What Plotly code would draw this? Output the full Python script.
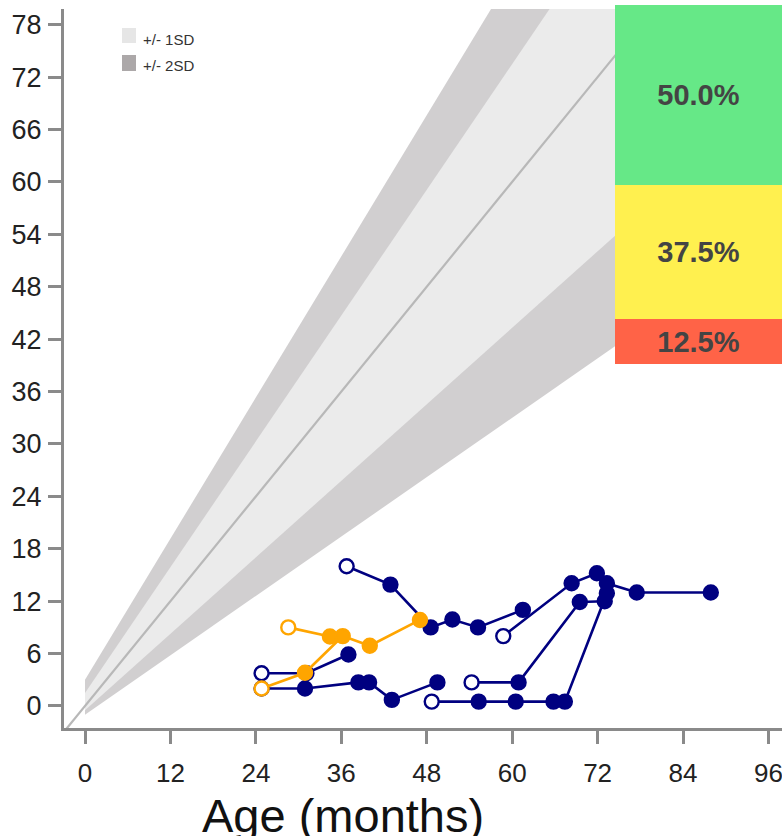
import plotly.graph_objects as go

# ---------------- data ----------------
band_age = [0, 75]
upper_2sd = [3.0, 104.0]
upper_1sd = [1.5, 91.5]
lower_1sd = [-0.5, 54.25]
lower_2sd = [-1.0, 41.5]
mean_age = [-3, 75]
mean_val = [-3, 75]

A_age = [36.75, 42.9, 48.55, 51.6, 55.2, 61.5]
A_val = [16.0, 13.9, 9.0, 9.9, 9.0, 11.0]
B_age = [58.75, 68.35, 71.9, 73.3, 77.5, 87.9]
B_val = [8.0, 14.05, 15.2, 14.05, 13.0, 13.0]
C_age = [54.3, 60.9, 69.5, 73.0]
C_val = [2.7, 2.7, 11.9, 12.0]
D_age = [48.7, 55.3, 60.5, 65.8, 67.4, 73.3]
D_val = [0.5, 0.5, 0.5, 0.5, 0.5, 12.9]
E_age = [24.8, 31.1, 37.0]
E_val = [3.75, 3.75, 5.9]
F_age = [24.8, 30.9, 38.4, 39.9, 43.1, 49.5]
F_val = [2.0, 2.0, 2.7, 2.7, 0.7, 2.7]
G_age = [28.55, 34.4]
G_val = [9.0, 7.95]
H_age = [24.8, 30.9, 36.2, 40.0, 47.05]
H_val = [2.0, 3.8, 8.0, 6.9, 9.85]

pct_labels = ["red", "yellow", "green"]
pct_values = [12.5, 37.5, 50.0]

x_ticks = [0, 12, 24, 36, 48, 60, 72, 84, 96]
y_ticks = [0, 6, 12, 18, 24, 30, 36, 42, 48, 54, 60, 66, 72, 78]

# ---------------- style ----------------
W, H = 782, 836
ML, MR, MT, MB = 64, 0, 5, 108
PW, PH = W - ML - MR, H - MT - MB
FONT = "Arial, Liberation Sans, sans-serif"
NAVY = "#000080"
ORANGE = "#FFA500"
AXC = "#8a8a8a"
pct_colors = ["#FF6347", "#FFF04F", "#66E887"]


def px_x(px):
    return (px - ML) / PW


def px_y(py):
    return (H - MB - py) / PH


fig = go.Figure()

# bands
fig.add_trace(go.Scatter(x=band_age, y=lower_2sd, mode="lines", line=dict(width=0),
                         hoverinfo="skip", showlegend=False))
fig.add_trace(go.Scatter(x=band_age, y=upper_2sd, mode="lines", line=dict(width=0),
                         fill="tonexty", fillcolor="#d1cfd0", hoverinfo="skip", showlegend=False))
fig.add_trace(go.Scatter(x=band_age, y=lower_1sd, mode="lines", line=dict(width=0),
                         hoverinfo="skip", showlegend=False))
fig.add_trace(go.Scatter(x=band_age, y=upper_1sd, mode="lines", line=dict(width=0),
                         fill="tonexty", fillcolor="#ebebeb", hoverinfo="skip", showlegend=False))
fig.add_trace(go.Scatter(x=mean_age, y=mean_val, mode="lines", line=dict(width=2.2, color="#b8b8b8"),
                         hoverinfo="skip", showlegend=False))


def add_series(ages, vals, color):
    fills = ["white"] + [color] * (len(ages) - 1)
    fig.add_trace(go.Scatter(
        x=ages, y=vals, mode="lines+markers",
        line=dict(color=color, width=2.6),
        marker=dict(size=14, color=fills, line=dict(color=color, width=2.4)),
        showlegend=False, cliponaxis=False))


for a, v in [(A_age, A_val), (B_age, B_val), (C_age, C_val), (D_age, D_val),
             (E_age, E_val), (F_age, F_val)]:
    add_series(a, v, NAVY)
for a, v in [(G_age, G_val), (H_age, H_val)]:
    add_series(a, v, ORANGE)

# percentage stacked bar
for lab, val, col in zip(pct_labels, pct_values, pct_colors):
    fig.add_trace(go.Bar(
        x=[0], y=[val], width=[1], xaxis="x2", yaxis="y2",
        marker=dict(color=col, line=dict(width=0)),
        texttemplate="<b>%{y:.1f}%</b>", textposition="inside",
        insidetextanchor="middle", constraintext="none",
        textfont=dict(size=29, color="#444444", family=FONT),
        showlegend=False, name=lab))

# legend (manual)
shapes = [
    dict(type="rect", xref="paper", yref="paper", x0=px_x(122), x1=px_x(136),
         y0=px_y(43), y1=px_y(28), fillcolor="#e6e6e6", line=dict(width=0)),
    dict(type="rect", xref="paper", yref="paper", x0=px_x(122), x1=px_x(136),
         y0=px_y(71), y1=px_y(55), fillcolor="#aca8a9", line=dict(width=0)),
]
annotations = [
    dict(text="+/- 1SD", xref="paper", yref="paper", x=px_x(141), y=px_y(39),
         xanchor="left", yanchor="middle", showarrow=False,
         font=dict(size=15, color="#333333", family=FONT)),
    dict(text="+/- 2SD", xref="paper", yref="paper", x=px_x(141), y=px_y(65),
         xanchor="left", yanchor="middle", showarrow=False,
         font=dict(size=15, color="#333333", family=FONT)),
    dict(text="Age (months)", xref="paper", yref="paper", x=px_x(343), y=px_y(815),
         xanchor="center", yanchor="middle", showarrow=False,
         font=dict(size=47, color="#111111", family=FONT)),
]

fig.update_layout(
    width=W, height=H,
    margin=dict(l=ML, r=MR, t=MT, b=MB, autoexpand=False),
    paper_bgcolor="white", plot_bgcolor="white",
    barmode="stack", bargap=0,
    showlegend=False,
    font=dict(family=FONT, color="#222222"),
    shapes=shapes, annotations=annotations,
    xaxis=dict(range=[-2.95, 97.9], domain=[0, 1], tickvals=x_ticks,
               ticks="outside", ticklen=13, tickwidth=2.5, tickcolor=AXC,
               showline=True, linewidth=3, linecolor=AXC,
               showgrid=False, zeroline=False, ticklabelstandoff=7,
               ticklabeloverflow="allow",
               tickfont=dict(size=26, color="#222222", family=FONT)),
    yaxis=dict(range=[-2.52, 79.8], domain=[0, px_y(9)], tickvals=y_ticks,
               ticks="outside", ticklen=13, tickwidth=2.5, tickcolor=AXC,
               showline=True, linewidth=3, linecolor=AXC,
               showgrid=False, zeroline=False, ticklabelstandoff=1,
               ticklabeloverflow="allow",
               tickfont=dict(size=27, color="#222222", family=FONT)),
    xaxis2=dict(domain=[px_x(615), 1], range=[-0.5, 0.5], anchor="y2",
                visible=False, fixedrange=True),
    yaxis2=dict(domain=[px_y(364), 1], range=[0, 100], anchor="x2",
                visible=False, fixedrange=True),
)

fig.write_html("out.html")
